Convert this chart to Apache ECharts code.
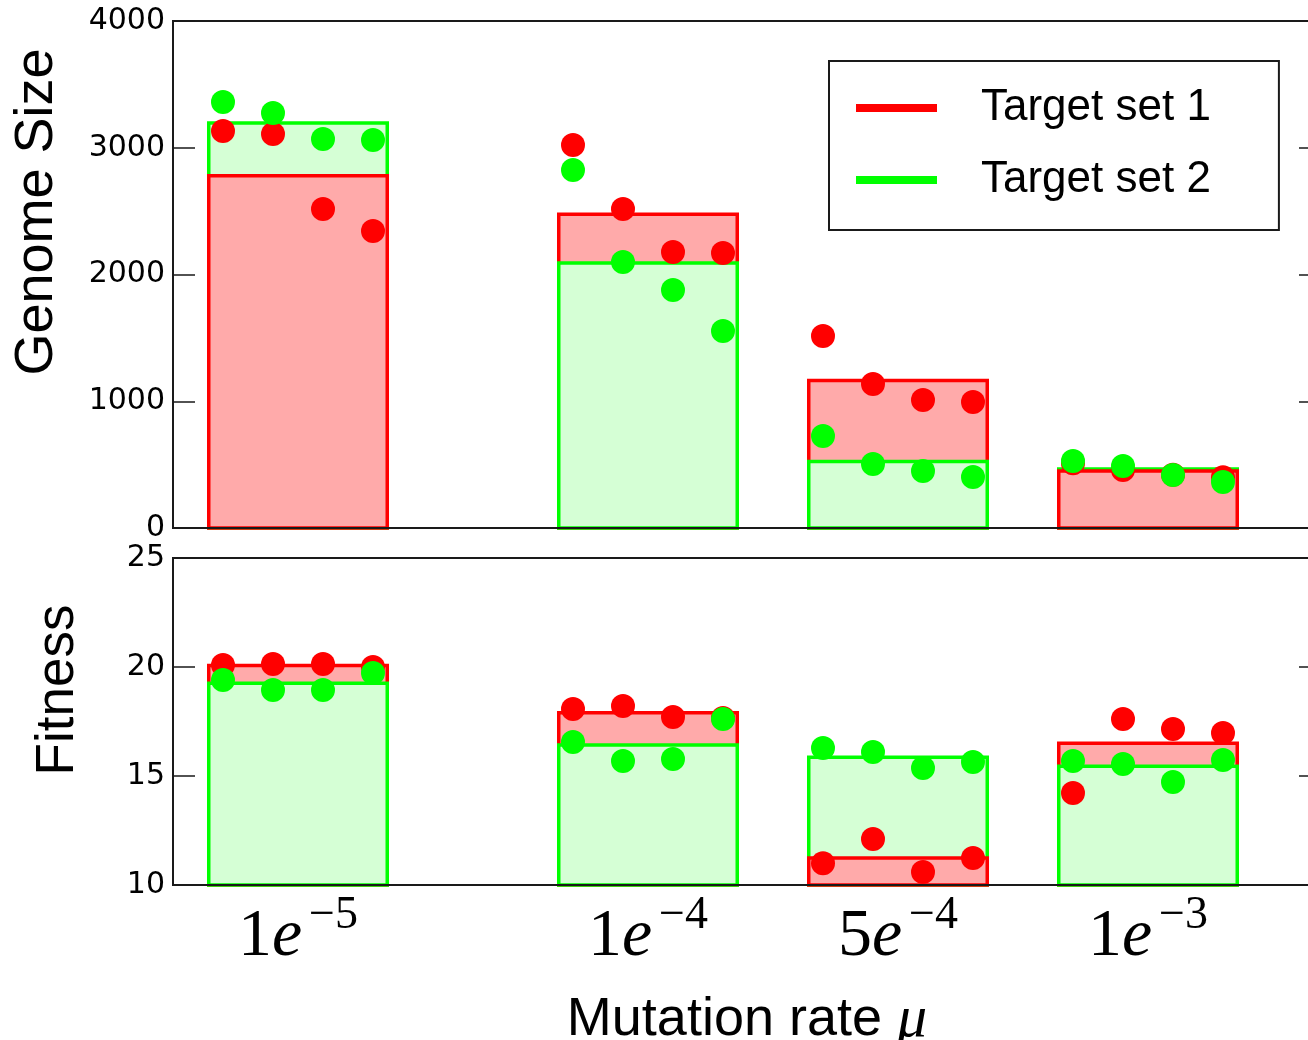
<!DOCTYPE html>
<html>
<head>
<meta charset="utf-8">
<title>Genome size and fitness vs mutation rate</title>
<script src="https://cdn.jsdelivr.net/npm/echarts@6/dist/echarts.min.js"></script>
<style>
  html, body { margin: 0; padding: 0; background: #fff; }
  #chart { width: 1308px; height: 1040px; }
</style>
</head>
<body>
<div id="chart"></div>
<script>
// ---- data ----------------------------------------------------------------
// mutation rates, placed along a value axis (uneven spacing between groups)
const rateMantissa = ['1', '1', '5', '1'];
const rateExponent = ['\u22125', '\u22124', '\u22124', '\u22123'];
const ratePositions = [0, 1.4, 2.4, 3.4];

const seriesNames = ['Target set 1', 'Target set 2'];

// Genome size: bar heights (averages) and the four runs per rate
const genomeSet1 = [2780, 2475, 1163, 450];
const genomeSet2 = [3195, 2090, 525, 465];
const genomeRunsSet1 = [
  [3132, 3108, 2517, 2343],
  [3022, 2517, 2178, 2170],
  [1515, 1136, 1010, 994],
  [510, 458, 420, 400]
];
const genomeRunsSet2 = [
  [3361, 3274, 3069, 3061],
  [2824, 2099, 1878, 1554],
  [726, 505, 450, 402],
  [528, 489, 418, 363]
];

// Fitness: bar heights (averages) and the four runs per rate
const fitnessSet1 = [20.07, 17.9, 11.24, 16.5];
const fitnessSet2 = [19.25, 16.42, 15.86, 15.45];
const fitnessRunsSet1 = [
  [20.09, 20.14, 20.14, 20.0],
  [18.07, 18.21, 17.71, 17.66],
  [11.0, 12.11, 10.6, 11.24],
  [14.22, 17.61, 17.16, 16.97]
];
const fitnessRunsSet2 = [
  [19.40, 18.94, 18.94, 19.72],
  [16.56, 15.69, 15.78, 17.61],
  [16.28, 16.10, 15.37, 15.64],
  [15.69, 15.55, 14.72, 15.73]
];

// axis ticks
const genomeTicks = [0, 1000, 2000, 3000, 4000];
const fitnessTicks = [10, 15, 20, 25];

// ---- style ---------------------------------------------------------------
const RED = '#ff0000', RED_FILL = '#ffaaaa';
const GREEN = '#00ff00', GREEN_FILL = '#d5ffd5';
const INK = '#1a1a1a';
const BAR_HALF = 0.357;                 // half bar width in axis units
const RUN_OFFSETS = [-0.3, -0.1, 0.1, 0.3];
const X_MIN = -0.5, X_MAX = 4.092;
const PLOT_LEFT = 173, PLOT_WIDTH = 1148;

// ---- helpers -------------------------------------------------------------
function barData(values) {
  return values.map((v, i) => [ratePositions[i], v]);
}
function runData(runs) {
  const out = [];
  runs.forEach((group, i) => group.forEach((v, j) => out.push([ratePositions[i] + RUN_OFFSETS[j], v])));
  return out;
}
// the taller of the two bars goes behind the shorter one
function barRenderer(own, other, base, stroke, fill) {
  return function (params, api) {
    const i = params.dataIndex;
    const x = api.value(0), v = api.value(1);
    const p0 = api.coord([x - BAR_HALF, v]);
    const p1 = api.coord([x + BAR_HALF, base]);
    return {
      type: 'rect',
      z2: own[i] >= other[i] ? 1 : 2,
      shape: { x: p0[0], y: p0[1], width: p1[0] - p0[0], height: p1[1] - p0[1] },
      style: { fill: fill, stroke: stroke, lineWidth: 3.5 }
    };
  };
}
function rateLabel(value) {
  let idx = 0;
  ratePositions.forEach((p, i) => { if (Math.abs(p - value) < 1e-6) idx = i; });
  return '{m|' + rateMantissa[idx] + '}{e|e}{s|' + rateExponent[idx] + '}';
}

const tickLabelStyle = {
  fontFamily: 'DejaVu Sans', fontSize: 30, color: '#000', margin: 8,
  formatter: (v) => String(v)
};

function yAxisPair(gridIndex, min, max, interval) {
  const common = {
    type: 'value', gridIndex: gridIndex, min: min, max: max, interval: interval,
    splitLine: { show: false },
    axisLine: { show: true, onZero: false, lineStyle: { color: INK, width: 2 } },
    axisTick: { show: true, inside: true, length: 22, lineStyle: { color: INK, width: 1.5 } }
  };
  return [
    Object.assign({}, common, { position: 'left', axisLabel: tickLabelStyle }),
    Object.assign({}, common, { position: 'right', axisLabel: { show: false } })
  ];
}

const chart = echarts.init(document.getElementById('chart'), null, { renderer: 'canvas' });

const gridCommon = {
  left: PLOT_LEFT, width: PLOT_WIDTH, show: true, borderColor: INK, borderWidth: 2,
  backgroundColor: 'transparent', containLabel: false, outerBoundsMode: 'none'
};

const option = {
  backgroundColor: '#fff',
  animation: false,
  grid: [
    Object.assign({}, gridCommon, { top: 21, height: 507 }),
    Object.assign({}, gridCommon, { top: 558, height: 327 })
  ],
  xAxis: [
    {
      type: 'value', gridIndex: 0, min: X_MIN, max: X_MAX, z: 5,
      axisLine: { show: true, onZero: false, lineStyle: { color: INK, width: 2 } },
      axisTick: { show: false }, axisLabel: { show: false }, splitLine: { show: false }
    },
    {
      type: 'value', gridIndex: 1, min: X_MIN, max: X_MAX, z: 5,
      axisLine: { show: true, onZero: false, lineStyle: { color: INK, width: 2 } },
      axisTick: { show: false }, splitLine: { show: false },
      axisLabel: {
        customValues: ratePositions,
        formatter: rateLabel,
        margin: 8,
        color: '#000',
        rich: {
          m: { fontFamily: 'Liberation Serif', fontSize: 68, lineHeight: 78, verticalAlign: 'bottom' },
          e: { fontFamily: 'Liberation Serif', fontStyle: 'italic', fontSize: 68, lineHeight: 78, verticalAlign: 'bottom', padding: [0, 2, 0, 0] },
          s: { fontFamily: 'Liberation Serif', fontSize: 46, lineHeight: 46, verticalAlign: 'top', padding: [0, 0, 0, 5] }
        }
      },
      name: '{a|Mutation rate }{m|\u03bc}',
      nameLocation: 'middle',
      nameGap: 106,
      nameTextStyle: {
        rich: {
          a: { fontFamily: 'Liberation Sans', fontSize: 54, color: '#000', lineHeight: 58 },
          m: { fontFamily: 'Liberation Serif', fontStyle: 'italic', fontSize: 60, color: '#000', lineHeight: 58 }
        }
      }
    }
  ],
  yAxis: [].concat(
    yAxisPair(0, genomeTicks[0], genomeTicks[genomeTicks.length - 1], genomeTicks[1] - genomeTicks[0]),
    yAxisPair(1, fitnessTicks[0], fitnessTicks[fitnessTicks.length - 1], fitnessTicks[1] - fitnessTicks[0])
  ),
  legend: {
    orient: 'vertical',
    left: 829, top: 61,
    padding: [22, 68, 25, 27],
    itemGap: 22,
    itemWidth: 81, itemHeight: 8,
    borderColor: INK, borderWidth: 2, borderRadius: 0,
    backgroundColor: '#fff',
    selectedMode: false,
    textStyle: { fontFamily: 'Liberation Sans', fontSize: 44, color: '#000', lineHeight: 50, padding: [0, 0, 0, 39] },
    data: [
      { name: seriesNames[0], icon: 'rect', itemStyle: { color: RED } },
      { name: seriesNames[1], icon: 'rect', itemStyle: { color: GREEN } }
    ]
  },
  graphic: [
    {
      type: 'text', x: 37, y: 212, rotation: Math.PI / 2,
      style: { text: 'Genome Size', fontFamily: 'Liberation Sans', fontSize: 54, fill: '#000', align: 'center', verticalAlign: 'middle' }
    },
    {
      type: 'text', x: 58, y: 690, rotation: Math.PI / 2,
      style: { text: 'Fitness', fontFamily: 'Liberation Sans', fontSize: 53, fill: '#000', align: 'center', verticalAlign: 'middle' }
    }
  ],
  series: [
    // genome size bars
    { type: 'custom', name: seriesNames[0], xAxisIndex: 0, yAxisIndex: 0, z: 2, data: barData(genomeSet1),
      renderItem: barRenderer(genomeSet1, genomeSet2, 0, RED, RED_FILL) },
    { type: 'custom', name: seriesNames[1], xAxisIndex: 0, yAxisIndex: 0, z: 2, data: barData(genomeSet2),
      renderItem: barRenderer(genomeSet2, genomeSet1, 0, GREEN, GREEN_FILL) },
    // genome size runs
    { type: 'scatter', name: seriesNames[0], xAxisIndex: 0, yAxisIndex: 0, z: 3, symbolSize: 24,
      itemStyle: { color: RED, opacity: 1 }, data: runData(genomeRunsSet1) },
    { type: 'scatter', name: seriesNames[1], xAxisIndex: 0, yAxisIndex: 0, z: 4, symbolSize: 24,
      itemStyle: { color: GREEN, opacity: 1 }, data: runData(genomeRunsSet2) },
    // fitness bars
    { type: 'custom', name: seriesNames[0], xAxisIndex: 1, yAxisIndex: 2, z: 2, data: barData(fitnessSet1),
      renderItem: barRenderer(fitnessSet1, fitnessSet2, fitnessTicks[0], RED, RED_FILL) },
    { type: 'custom', name: seriesNames[1], xAxisIndex: 1, yAxisIndex: 2, z: 2, data: barData(fitnessSet2),
      renderItem: barRenderer(fitnessSet2, fitnessSet1, fitnessTicks[0], GREEN, GREEN_FILL) },
    // fitness runs
    { type: 'scatter', name: seriesNames[0], xAxisIndex: 1, yAxisIndex: 2, z: 3, symbolSize: 24,
      itemStyle: { color: RED, opacity: 1 }, data: runData(fitnessRunsSet1) },
    { type: 'scatter', name: seriesNames[1], xAxisIndex: 1, yAxisIndex: 2, z: 4, symbolSize: 24,
      itemStyle: { color: GREEN, opacity: 1 }, data: runData(fitnessRunsSet2) }
  ]
};

chart.setOption(option);
</script>
</body>
</html>
